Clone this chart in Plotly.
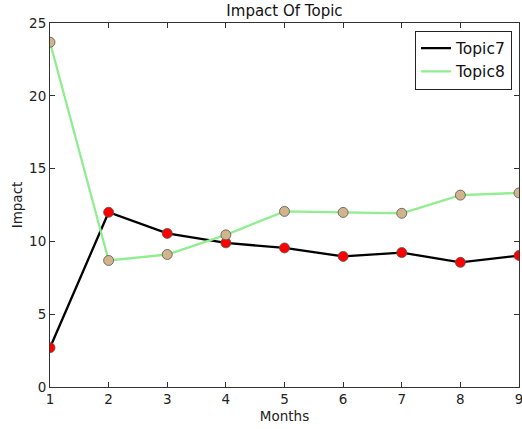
import plotly.graph_objects as go

months = [1, 2, 3, 4, 5, 6, 7, 8, 9]
topic7 = [2.7, 12.0, 10.55, 9.9, 9.55, 8.97, 9.23, 8.56, 9.03]
topic8 = [23.68, 8.69, 9.1, 10.45, 12.06, 11.99, 11.93, 13.18, 13.33]
x_ticks = [1, 2, 3, 4, 5, 6, 7, 8, 9]
y_ticks = [0, 5, 10, 15, 20, 25]

fig = go.Figure()
fig.add_trace(go.Scatter(x=months, y=topic7, mode="lines", name="Topic7",
                         line=dict(color="black", width=2.3)))
fig.add_trace(go.Scatter(x=months, y=topic8, mode="lines", name="Topic8",
                         line=dict(color="#90EE90", width=2.3)))
fig.add_trace(go.Scatter(x=months, y=topic7, mode="markers", showlegend=False,
                         marker=dict(color="red", size=10, line=dict(color="#555555", width=0.8))))
fig.add_trace(go.Scatter(x=months, y=topic8, mode="markers", showlegend=False,
                         marker=dict(color="#D2B48C", size=10, line=dict(color="#555555", width=0.8))))

axis_common = dict(showgrid=False, zeroline=False, showline=True, linecolor="#333333",
                   linewidth=1, mirror="ticks", ticks="inside", ticklen=5, automargin=False,
                   ticklabeloverflow="allow",
                   tickcolor="#333333", tickfont=dict(size=13.5, color="#222222"))
fig.update_layout(
    width=522, height=429,
    margin=dict(l=50, r=3, t=23, b=42),
    paper_bgcolor="white", plot_bgcolor="white",
    font=dict(family="DejaVu Sans", color="#222222"),
    title=dict(text="Impact Of Topic", x=0.545, xanchor="center", y=0.987, yanchor="top",
               font=dict(size=15, color="#111111"), automargin=False),
    xaxis=dict(range=[1, 9], tickvals=x_ticks, title=dict(text="Months", font=dict(size=13.5), standoff=5),
               **axis_common),
    yaxis=dict(range=[0, 25], tickvals=y_ticks, title=dict(text="Impact", font=dict(size=13.5), standoff=3),
               **axis_common),
    legend=dict(x=0.985, y=0.979, xanchor="right", yanchor="top", bordercolor="#222222",
                borderwidth=1, bgcolor="white", font=dict(size=15.5, color="#111111"),
                itemwidth=30),
)
fig.write_html("out.html", config={"displayModeBar": False},
               post_script="document.body.style.margin='0';document.body.style.overflow='hidden';")
